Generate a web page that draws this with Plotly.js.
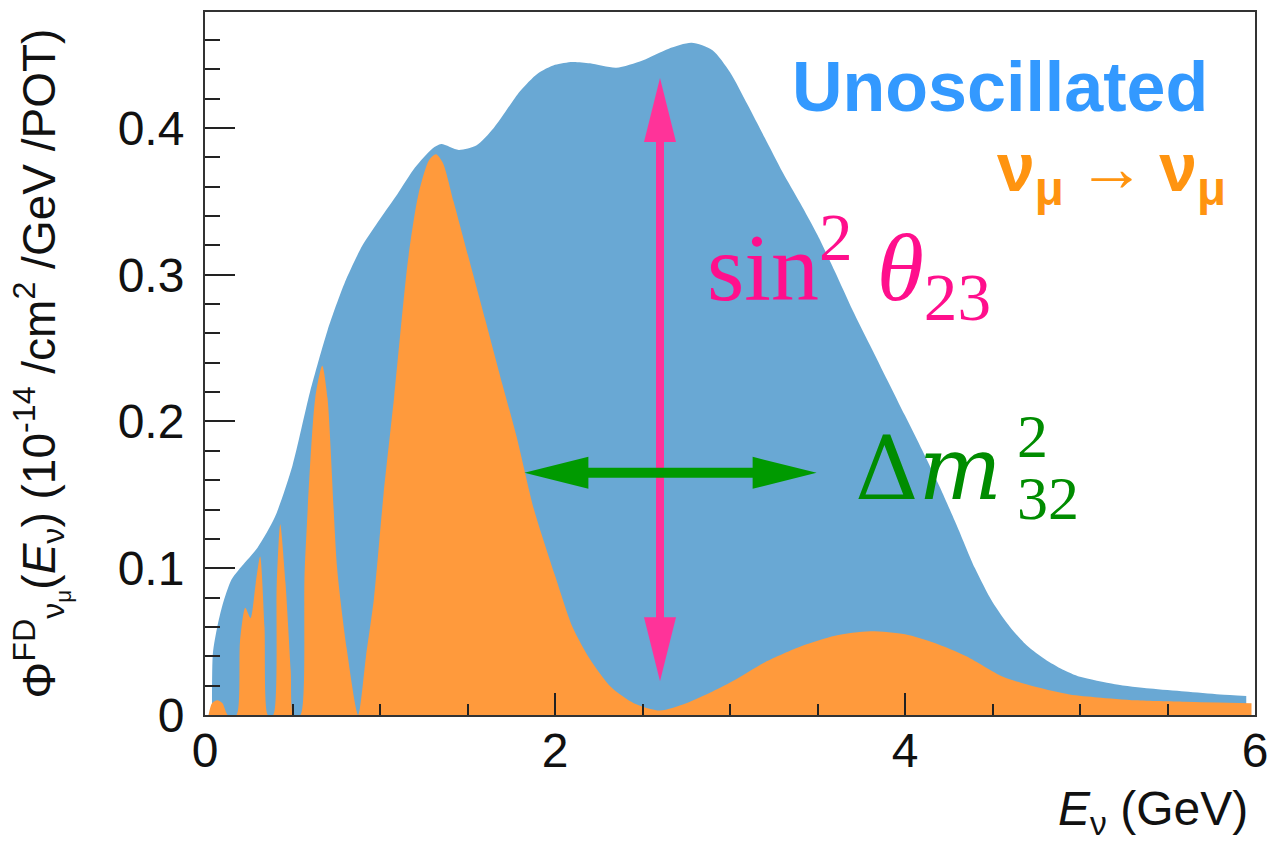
<!DOCTYPE html>
<html><head><meta charset="utf-8">
<script src="https://cdn.plot.ly/plotly-3.0.1.min.js"></script>
<style>html,body{margin:0;padding:0;background:#fff}</style>
</head><body><div id="chart" style="width:1278px;height:842px"></div>
<script>
// ---- data ----
const energyUnosc = [0.04,0.045,0.07,0.10,0.15,0.20,0.30,0.40,0.50,0.60,0.70,0.80,0.90,1.00,1.10,1.20,1.30,1.35,1.45,1.55,1.65,1.80,1.90,2.00,2.10,2.20,2.35,2.50,2.65,2.78,2.90,3.00,3.10,3.20,3.30,3.40,3.50,3.60,3.70,3.80,3.90,4.00,4.10,4.20,4.30,4.40,4.50,4.60,4.70,4.80,4.90,5.00,5.20,5.40,5.60,5.80,5.95];
const fluxUnosc   = [0.0,0.042,0.060,0.075,0.092,0.100,0.114,0.135,0.170,0.220,0.262,0.295,0.320,0.338,0.355,0.373,0.386,0.389,0.385,0.388,0.400,0.425,0.437,0.443,0.445,0.444,0.441,0.446,0.454,0.458,0.453,0.438,0.416,0.393,0.370,0.349,0.327,0.302,0.276,0.252,0.228,0.204,0.180,0.155,0.128,0.100,0.077,0.060,0.047,0.038,0.031,0.026,0.021,0.018,0.016,0.014,0.013];

const energyOsc = [0.02,0.04,0.07,0.10,0.13,0.18,0.20,0.23,0.26,0.29,0.315,0.34,0.36,0.39,0.41,0.43,0.46,0.49,0.505,0.545,0.57,0.63,0.67,0.70,0.755,0.81,0.875,0.92,0.965,1.02,1.08,1.16,1.22,1.28,1.32,1.36,1.42,1.51,1.60,1.70,1.78,1.88,2.00,2.10,2.20,2.32,2.45,2.60,2.75,2.90,3.03,3.20,3.41,3.60,3.80,4.00,4.17,4.35,4.56,4.75,4.94,5.10,5.32,5.60,5.98];
const fluxOsc   = [0.0,0.008,0.010,0.008,0.0,0.0,0.05,0.073,0.066,0.090,0.108,0.060,0.0,0.0,0.090,0.130,0.090,0.030,0.0,0.0,0.100,0.216,0.238,0.216,0.100,0.045,0.0,0.040,0.079,0.150,0.216,0.310,0.355,0.378,0.382,0.376,0.350,0.310,0.270,0.225,0.190,0.140,0.095,0.060,0.038,0.019,0.008,0.003,0.008,0.016,0.024,0.036,0.047,0.054,0.057,0.055,0.049,0.040,0.026,0.019,0.014,0.012,0.010,0.009,0.008];

const xTickVals = [0,2,4,6];
const xTickText = ['0','2','4','6'];
const yTickVals = [0,0.1,0.2,0.3,0.4];
const yTickText = ['0','0.1','0.2','0.3','0.4'];

// arrow end points (annotation geometry, data units)
const th23Arrow = {x:2.6, yLow:0.023, yHigh:0.434};
const dm32Arrow = {y:0.165, xLow:1.825, xHigh:3.495};

// ---- layout constants ----
const W = 1278, H = 842;
const M = {l:205, r:23, t:12, b:127};
const xRange = [0,6], yRange = [0,0.479];
const pxX = (W - M.l - M.r) / (xRange[1]-xRange[0]);
const pxY = (H - M.t - M.b) / (yRange[1]-yRange[0]);

function vArrowPath(L, hl, hw, sw){
  return `M0,0 L${-hw},${hl} L${-sw},${hl} L${-sw},${L-hl} L${-hw},${L-hl} L0,${L} L${hw},${L-hl} L${sw},${L-hl} L${sw},${hl} L${hw},${hl} Z`;
}
function hArrowPath(L, hl, hw, sw){
  return `M0,0 L${hl},${hw} L${hl},${sw} L${L-hl},${sw} L${L-hl},${hw} L${L},0 L${L-hl},${-hw} L${L-hl},${-sw} L${hl},${-sw} L${hl},${-hw} Z`;
}

const traces = [
  {x: energyUnosc, y: fluxUnosc, type:'scatter', mode:'lines', fill:'tozeroy',
   fillcolor:'#69a8d4', line:{width:0, color:'#69a8d4', shape:'spline', smoothing:0.7}, name:'Unoscillated', hoverinfo:'skip'},
  {x: energyOsc, y: fluxOsc, type:'scatter', mode:'lines', fill:'tozeroy',
   fillcolor:'#ff9a3c', line:{width:0, color:'#ff9a3c', shape:'spline', smoothing:0.7}, name:'νμ→νμ', hoverinfo:'skip'}
];

const shapes = [
  {type:'path', xref:'x', yref:'y', xsizemode:'pixel', ysizemode:'pixel',
   xanchor: th23Arrow.x, yanchor: th23Arrow.yLow,
   path: vArrowPath((th23Arrow.yHigh-th23Arrow.yLow)*pxY, 64, 16, 4),
   fillcolor:'#ff3399', line:{width:0}, layer:'above'},
  {type:'path', xref:'x', yref:'y', xsizemode:'pixel', ysizemode:'pixel',
   xanchor: dm32Arrow.xLow, yanchor: dm32Arrow.y,
   path: hArrowPath((dm32Arrow.xHigh-dm32Arrow.xLow)*pxX, 64, 16, 5),
   fillcolor:'#009a00', line:{width:0}, layer:'above'}
];

const serif = 'Liberation Serif, DejaVu Serif, serif';
const serifWide = 'DejaVu Serif, Liberation Serif, serif';
const sans = 'Liberation Sans, Arial, sans-serif';

const annotations = [
  {xref:'x', yref:'y', x:4.543, y:0.428, text:'<b>Unoscillated</b>', showarrow:false,
   xanchor:'center', yanchor:'middle', font:{family:sans, size:70, color:'#3399ff'}},
  {xref:'x', yref:'y', x:5.18, y:0.370,
   text:'<b>ν</b><sub><b>μ</b></sub>\u2009→\u2009<b>ν</b><sub><b>μ</b></sub>', showarrow:false,
   xanchor:'center', yanchor:'middle', font:{family:sans, size:68, color:'#ff9410'}},
  {xref:'x', yref:'y', x:2.857, y:0.305, text:'sin<sup>2</sup> <i>θ</i><sub>23</sub>', showarrow:false,
   xanchor:'left', yanchor:'middle', font:{family:serif, size:96, color:'#ff0f8c'}},
  {xref:'x', yref:'y', x:3.70, y:0.168, text:'Δ<i>m</i>', showarrow:false,
   xanchor:'left', yanchor:'middle', font:{family:serifWide, size:88, color:'#008c00'}},
  {xref:'x', yref:'y', x:4.63, y:0.190, text:'2', showarrow:false,
   xanchor:'left', yanchor:'middle', font:{family:serif, size:62, color:'#008c00'}},
  {xref:'x', yref:'y', x:4.63, y:0.148, text:'32', showarrow:false,
   xanchor:'left', yanchor:'middle', font:{family:serif, size:62, color:'#008c00'}},
  {xref:'paper', yref:'paper', x:0.995, y:-0.138, text:'<i>E</i><sub>ν</sub> (GeV)', showarrow:false,
   xanchor:'right', yanchor:'middle', font:{family:sans, size:48, color:'#111'}}
];

const layout = {
  width: W, height: H,
  margin: M,
  paper_bgcolor:'#fff', plot_bgcolor:'#fff',
  showlegend:false,
  font:{family:sans, color:'#111'},
  xaxis:{range:xRange, tickvals:xTickVals, ticktext:xTickText, ticks:'inside', ticklen:22, tickwidth:2, tickcolor:'#222',
    minor:{dtick:0.5, ticks:'inside', ticklen:11, tickwidth:2, tickcolor:'#222', showgrid:false},
    showline:true, linecolor:'#333', linewidth:2, mirror:true, showgrid:false, zeroline:false,
    tickfont:{family:sans, size:48, color:'#111'}, ticklabelstandoff:-8},
  yaxis:{range:yRange, tickvals:yTickVals, ticktext:yTickText, ticks:'inside', ticklen:30, tickwidth:2, tickcolor:'#222',
    minor:{dtick:0.02, ticks:'inside', ticklen:15, tickwidth:2, tickcolor:'#222', showgrid:false},
    showline:true, linecolor:'#333', linewidth:2, mirror:true, showgrid:false, zeroline:false,
    tickfont:{family:sans, size:48, color:'#111'}, ticklabelstandoff:9,
    title:{text:'Φ<sup>FD</sup><sub>ν<sub>μ</sub></sub>(<i>E</i><sub>ν</sub>) (10<sup>-14</sup> /cm<sup>2</sup> /GeV /POT)',
      font:{family:sans, size:46, color:'#111'}, standoff:48}},
  shapes: shapes,
  annotations: annotations
};

Plotly.newPlot('chart', traces, layout, {displayModeBar:false, staticPlot:true});
</script></body></html>
